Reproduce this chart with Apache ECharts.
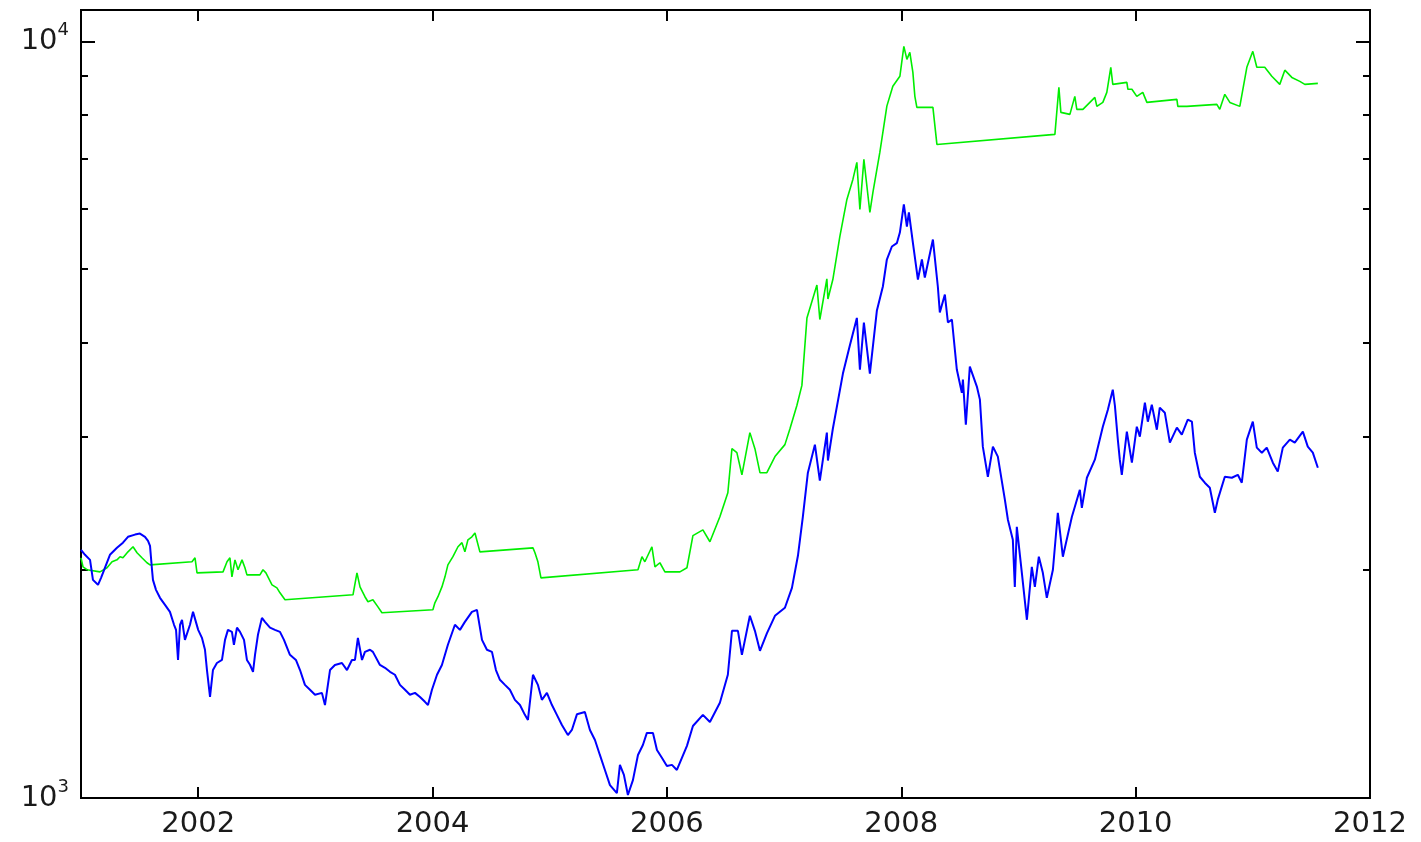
<!DOCTYPE html>
<html>
<head>
<meta charset="utf-8">
<title>index</title>
<script src="https://cdn.jsdelivr.net/npm/echarts@6/dist/echarts.min.js"></script>
<style>
  html, body { margin: 0; padding: 0; background: #fff; }
  #chart { width: 1421px; height: 842px; }
</style>
</head>
<body>
<div id="chart"></div>
<script>
  // x 轴刻度（年）
  const yearTicks = [2002, 2004, 2006, 2008, 2010, 2012];
  // y 轴（对数）主刻度、次刻度
  const decadeTicks = [1000, 10000];
  const minorTicks = [2000, 3000, 4000, 5000, 6000, 7000, 8000, 9000];

  // 蓝线
  const blueYears = [
    2001.000, 2001.034, 2001.077, 2001.102, 2001.145, 2001.171, 2001.247, 2001.307, 2001.358, 2001.401,
    2001.461, 2001.503, 2001.546, 2001.572, 2001.589, 2001.606, 2001.614, 2001.640, 2001.674, 2001.717,
    2001.759, 2001.794, 2001.811, 2001.828, 2001.845, 2001.862, 2001.887, 2001.930, 2001.956, 2002.000,
    2002.032, 2002.058, 2002.075, 2002.101, 2002.126, 2002.160, 2002.203, 2002.229, 2002.254, 2002.288,
    2002.305, 2002.331, 2002.357, 2002.391, 2002.416, 2002.442, 2002.468, 2002.485, 2002.510, 2002.544,
    2002.570, 2002.613, 2002.655, 2002.698, 2002.732, 2002.783, 2002.834, 2002.869, 2002.911, 2002.954,
    2002.997, 2003.056, 2003.082, 2003.125, 2003.167, 2003.227, 2003.270, 2003.312, 2003.338, 2003.363,
    2003.398, 2003.423, 2003.466, 2003.491, 2003.551, 2003.594, 2003.637, 2003.679, 2003.722, 2003.765,
    2003.807, 2003.850, 2003.893, 2003.935, 2003.961, 2003.995, 2004.038, 2004.080, 2004.131, 2004.191,
    2004.234, 2004.276, 2004.336, 2004.379, 2004.422, 2004.464, 2004.507, 2004.541, 2004.575, 2004.618,
    2004.660, 2004.703, 2004.746, 2004.788, 2004.814, 2004.857, 2004.899, 2004.933, 2004.976, 2005.019,
    2005.061, 2005.104, 2005.155, 2005.189, 2005.232, 2005.300, 2005.343, 2005.386, 2005.428, 2005.471,
    2005.514, 2005.573, 2005.599, 2005.633, 2005.667, 2005.710, 2005.753, 2005.795, 2005.829, 2005.881,
    2005.915, 2005.957, 2006.000, 2006.043, 2006.085, 2006.171, 2006.222, 2006.307, 2006.367, 2006.452,
    2006.520, 2006.555, 2006.606, 2006.640, 2006.708, 2006.751, 2006.794, 2006.853, 2006.922, 2007.007,
    2007.067, 2007.118, 2007.160, 2007.203, 2007.263, 2007.305, 2007.365, 2007.374, 2007.416, 2007.502,
    2007.561, 2007.621, 2007.647, 2007.681, 2007.732, 2007.792, 2007.843, 2007.877, 2007.920, 2007.962,
    2007.988, 2008.022, 2008.048, 2008.065, 2008.099, 2008.142, 2008.176, 2008.201, 2008.270, 2008.312,
    2008.329, 2008.372, 2008.398, 2008.432, 2008.474, 2008.517, 2008.526, 2008.551, 2008.585, 2008.645,
    2008.671, 2008.696, 2008.739, 2008.782, 2008.824, 2008.884, 2008.910, 2008.952, 2008.969, 2008.986,
    2009.029, 2009.072, 2009.114, 2009.140, 2009.174, 2009.208, 2009.242, 2009.294, 2009.336, 2009.379,
    2009.456, 2009.524, 2009.541, 2009.584, 2009.652, 2009.720, 2009.763, 2009.805, 2009.823, 2009.848,
    2009.865, 2009.882, 2009.925, 2009.968, 2010.010, 2010.036, 2010.079, 2010.104, 2010.138, 2010.181,
    2010.206, 2010.249, 2010.292, 2010.352, 2010.394, 2010.445, 2010.480, 2010.505, 2010.548, 2010.590,
    2010.633, 2010.676, 2010.701, 2010.761, 2010.821, 2010.872, 2010.906, 2010.949, 2011.000, 2011.034,
    2011.077, 2011.119, 2011.171, 2011.213, 2011.256, 2011.316, 2011.358, 2011.427, 2011.469, 2011.512,
    2011.555
  ];
  const blueValues = [
    2128, 2096, 2064, 1942, 1913, 1954, 2096, 2141, 2175, 2214,
    2229, 2236, 2214, 2187, 2154, 2003, 1942, 1884, 1839, 1800,
    1762, 1694, 1668, 1522, 1694, 1720, 1618, 1694, 1762, 1668,
    1628, 1570, 1476, 1360, 1476, 1508, 1522, 1618, 1668, 1658,
    1594, 1679, 1658, 1618, 1522, 1500, 1468, 1546, 1643, 1730,
    1709, 1679, 1668, 1658, 1618, 1546, 1522, 1476, 1411, 1390,
    1369, 1377, 1327, 1476, 1499, 1508, 1476, 1522, 1522, 1628,
    1522, 1560, 1570, 1560, 1499, 1486, 1468, 1455, 1411, 1390,
    1369, 1377, 1360, 1340, 1327, 1390, 1455, 1499, 1594, 1694,
    1668, 1709, 1762, 1773, 1618, 1570, 1560, 1476, 1433, 1411,
    1390, 1348, 1327, 1288, 1268, 1455, 1411, 1348, 1377, 1327,
    1288, 1249, 1211, 1230, 1290, 1299, 1230, 1193, 1140, 1089,
    1040, 1015, 1106, 1073, 1009, 1056, 1140, 1175, 1219, 1219,
    1157, 1130, 1102, 1106, 1089, 1172, 1245, 1288, 1260, 1336,
    1455, 1663, 1663, 1546, 1741, 1663, 1565, 1650, 1741, 1784,
    1895, 2090, 2353, 2691, 2931, 2626, 3040, 2792, 3076, 3638,
    3962, 4310, 3683, 4250, 3638, 4409, 4742, 5148, 5356, 5410,
    5588, 6087, 5692, 5940, 5421, 4844, 5148, 4873, 5470, 4742,
    4381, 4627, 4250, 4289, 3683, 3433, 3572, 3114, 3717, 3497,
    3361, 2913, 2658, 2913, 2826, 2479, 2332, 2194, 1901, 2282,
    1984, 1720, 2021, 1901, 2084, 1984, 1839, 2003, 2382, 2084,
    2353, 2555, 2418, 2650, 2800, 3095, 3260, 3465, 3300, 2976,
    2800, 2674, 3049, 2774, 3095, 3003, 3330, 3143, 3309, 3067,
    3280, 3230, 2949, 3086, 3021, 3162, 3143, 2860, 2658, 2610,
    2571, 2382, 2479, 2658, 2650, 2674, 2610, 2976, 3143, 2904,
    2860, 2904, 2774, 2700, 2904, 2976, 2949, 3049, 2913, 2860,
    2732
  ];

  // 绿线
  const greenYears = [
    2001.000, 2001.017, 2001.051, 2001.162, 2001.222, 2001.265, 2001.307, 2001.333, 2001.358, 2001.401,
    2001.444, 2001.478, 2001.520, 2001.563, 2001.589, 2001.947, 2001.973, 2001.990, 2002.212, 2002.246,
    2002.271, 2002.288, 2002.314, 2002.340, 2002.374, 2002.399, 2002.416, 2002.527, 2002.553, 2002.578,
    2002.630, 2002.672, 2002.698, 2002.741, 2003.321, 2003.355, 2003.381, 2003.423, 2003.449, 2003.491,
    2003.534, 2003.568, 2004.003, 2004.020, 2004.046, 2004.080, 2004.106, 2004.131, 2004.174, 2004.217,
    2004.251, 2004.276, 2004.302, 2004.336, 2004.362, 2004.404, 2004.857, 2004.874, 2004.899, 2004.925,
    2005.753, 2005.787, 2005.812, 2005.872, 2005.898, 2005.940, 2005.983, 2006.111, 2006.171, 2006.222,
    2006.307, 2006.367, 2006.452, 2006.520, 2006.555, 2006.597, 2006.640, 2006.708, 2006.751, 2006.794,
    2006.853, 2006.922, 2007.007, 2007.050, 2007.109, 2007.152, 2007.195, 2007.280, 2007.305, 2007.365,
    2007.374, 2007.416, 2007.476, 2007.536, 2007.587, 2007.621, 2007.647, 2007.681, 2007.732, 2007.758,
    2007.817, 2007.877, 2007.928, 2007.988, 2008.022, 2008.048, 2008.073, 2008.099, 2008.116, 2008.133,
    2008.270, 2008.304, 2009.311, 2009.345, 2009.362, 2009.439, 2009.456, 2009.481, 2009.498, 2009.550,
    2009.652, 2009.669, 2009.720, 2009.754, 2009.788, 2009.805, 2009.925, 2009.934, 2009.968, 2010.010,
    2010.061, 2010.096, 2010.352, 2010.360, 2010.437, 2010.693, 2010.718, 2010.761, 2010.804, 2010.889,
    2010.949, 2011.000, 2011.034, 2011.102, 2011.162, 2011.230, 2011.273, 2011.333, 2011.401, 2011.444,
    2011.555
  ];
  const greenValues = [
    2077, 2021, 2003, 1990, 2015, 2052, 2064, 2084, 2077, 2115,
    2148, 2109, 2077, 2046, 2033, 2052, 2077, 1984, 1990, 2052,
    2077, 1960, 2064, 2003, 2064, 2015, 1972, 1972, 2003, 1984,
    1913, 1895, 1867, 1828, 1856, 1984, 1901, 1845, 1817, 1828,
    1789, 1757, 1773, 1811, 1845, 1901, 1960, 2033, 2084, 2148,
    2175, 2115, 2194, 2214, 2240, 2115, 2141, 2109, 2052, 1954,
    2003, 2084, 2052, 2148, 2021, 2046, 1990, 1990, 2015, 2222,
    2261, 2181, 2353, 2532, 2895, 2860, 2674, 3040, 2895, 2691,
    2691, 2826, 2931, 3076, 3301, 3510, 4309, 4764, 4289, 4853,
    4566, 4844, 5522, 6180, 6569, 6918, 5995, 6982, 5940, 6317,
    7131, 8210, 8720, 8990, 9849, 9467, 9670, 9100, 8458, 8180,
    8180, 7307, 7534, 8694, 8056, 8006, 7958, 8458, 8130, 8130,
    8432, 8204, 8304, 8562, 9240, 8772, 8826, 8642, 8642, 8458,
    8562, 8304, 8381, 8204, 8204, 8254, 8130, 8510, 8304, 8204,
    9240, 9700, 9240, 9240, 8990, 8772, 9160, 8960, 8853, 8772,
    8800
  ];

  const yMin = 1000;
  const yMax = 11000;
  const lg = Math.log10;

  function toPairs(xs, ys) {
    return xs.map(function (x, i) { return [x, ys[i]]; });
  }

  // 只画刻度的辅助轴（对数空间里的线性轴）
  function tickAxis(position, values, len) {
    return {
      type: 'value',
      position: position,
      min: lg(yMin),
      max: lg(yMax),
      axisLine: { show: false },
      splitLine: { show: false },
      axisLabel: { show: false },
      axisTick: {
        show: true,
        inside: true,
        length: len,
        customValues: values.map(lg),
        lineStyle: { color: '#000', width: 2 }
      }
    };
  }

  function yearAxis(position, showLabel) {
    return {
      type: 'value',
      position: position,
      min: 2001,
      max: 2012,
      axisLine: { show: false },
      splitLine: { show: false },
      axisTick: {
        show: true,
        inside: true,
        length: 11,
        customValues: yearTicks,
        lineStyle: { color: '#000', width: 2 }
      },
      axisLabel: {
        show: showLabel,
        customValues: yearTicks,
        margin: 12,
        color: '#1a1a1a',
        fontFamily: 'DejaVu Sans',
        fontSize: 29,
        lineHeight: 29,
        formatter: function (v) { return String(v); }
      }
    };
  }

  const chart = echarts.init(document.getElementById('chart'), null, { renderer: 'canvas' });

  chart.setOption({
    animation: false,
    backgroundColor: '#fff',
    grid: {
      left: 81,
      right: 51,
      top: 10,
      bottom: 44,
      show: true,
      borderColor: '#000',
      borderWidth: 2,
      backgroundColor: 'transparent'
    },
    xAxis: [
      yearAxis('bottom', true),
      yearAxis('top', false)
    ],
    yAxis: [
      {
        type: 'log',
        logBase: 10,
        position: 'left',
        min: yMin,
        max: yMax,
        axisLine: { show: false },
        axisTick: { show: false },
        splitLine: { show: false },
        axisLabel: {
          margin: 12,
          color: '#1a1a1a',
          formatter: function (v) {
            var e = lg(v);
            if (Math.abs(e - Math.round(e)) > 1e-6) {
              return '';
            }
            return '{b|10}{s|' + Math.round(e) + '}';
          },
          rich: {
            b: { fontFamily: 'DejaVu Sans', fontSize: 29, lineHeight: 40, color: '#1a1a1a' },
            s: { fontFamily: 'DejaVu Sans', fontSize: 18, lineHeight: 14, verticalAlign: 'top', color: '#1a1a1a' }
          }
        }
      },
      tickAxis('left', decadeTicks, 14),
      tickAxis('left', minorTicks, 7),
      tickAxis('right', decadeTicks, 14),
      tickAxis('right', minorTicks, 7)
    ],
    series: [
      {
        name: 'green',
        type: 'line',
        xAxisIndex: 0,
        yAxisIndex: 0,
        data: toPairs(greenYears, greenValues),
        showSymbol: false,
        symbol: 'none',
        lineStyle: { color: '#00ee00', width: 1.6 },
        z: 2
      },
      {
        name: 'blue',
        type: 'line',
        xAxisIndex: 0,
        yAxisIndex: 0,
        data: toPairs(blueYears, blueValues),
        showSymbol: false,
        symbol: 'none',
        lineStyle: { color: '#0000ff', width: 2 },
        z: 3
      }
    ]
  });
</script>
</body>
</html>
